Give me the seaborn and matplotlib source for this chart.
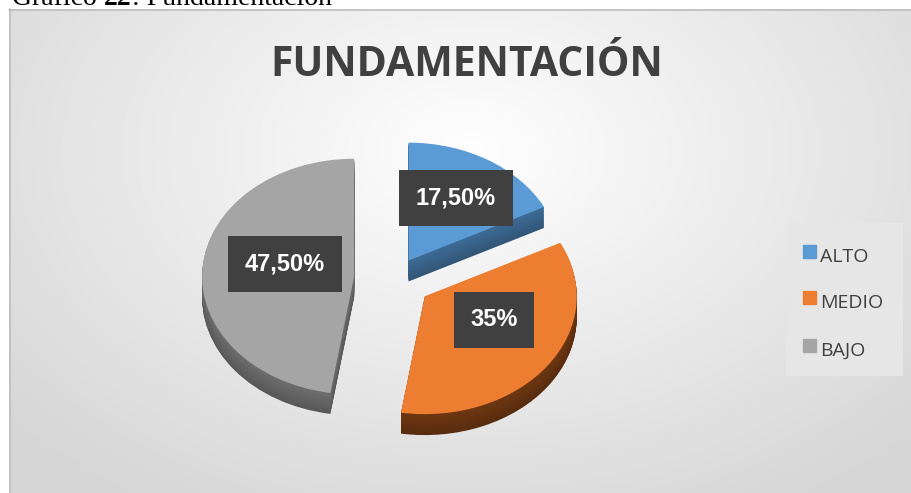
import numpy as np
import matplotlib
matplotlib.use("Agg")
import matplotlib.pyplot as plt
import matplotlib.colors as mcolors
import seaborn as sns

# data
categorias = ["ALTO", "MEDIO", "BAJO"]
porcentajes = [17.5, 35.0, 47.5]
etiquetas = ["17,50%", "35%", "47,50%"]
titulo = "FUNDAMENTACIÓN"
leyenda_partes = ["Gráfico ", "22", ": Fundamentación"]

colores = ["#5B9BD5", "#ED7D31", "#A5A5A5"]
colores_lado = ["#3E6C96", "#6E3712", "#6E6E6E"]

sns.set_theme(style="white")
plt.rcParams["font.family"] = ["Liberation Sans", "DejaVu Sans"]

W, H = 911, 493
fig = plt.figure(figsize=(W / 100, H / 100), dpi=100)
fig.patch.set_facecolor("white")

# background of the chart area: radial gradient, light center
bg = fig.add_axes([0, 0, 1, 1])
yy, xx = np.mgrid[0:H, 0:W]
d = np.sqrt(((xx - 470) / 620.0) ** 2 + ((yy - 150) / 420.0) ** 2)
d = np.clip(d, 0, 1)
c0 = np.array(mcolors.to_rgb("#ffffff"))
c1 = np.array(mcolors.to_rgb("#d6d6d6"))
img = c0[None, None, :] * (1 - d[..., None]) + c1[None, None, :] * d[..., None]
img[:9, :, :] = 1.0
img[:, :9, :] = 1.0
bg.imshow(img, extent=(0, W, H, 0), aspect="auto", interpolation="bilinear")
bg.plot([9, W], [9.5, 9.5], color="#bdbdbd", lw=1.2)
bg.plot([9.5, 9.5], [9, H], color="#bdbdbd", lw=1.2)
bg.set_xlim(0, W)
bg.set_ylim(H, 0)
bg.axis("off")

# pie axes: 1 data unit = 1 px horizontally, squashed vertically
k = 1.29
ax = fig.add_axes([0, 0, 1, 1])
ax.patch.set_alpha(0)

cx, cy_px = 394, 279
cy = (H - cy_px) * k
radio = 152
explode = [28, 38, 40]
depth = int(21 * k)

# side walls
for i in range(depth, 0, -1):
    f = i / depth
    cols = [mcolors.to_hex(np.array(mcolors.to_rgb(c)) * (0.8 + 0.2 * (1 - f)))
            for c in colores_lado]
    ax.pie(porcentajes, colors=cols, startangle=90, counterclock=False,
           explode=explode, radius=radio, center=(cx, cy - i),
           wedgeprops=dict(linewidth=0))

# top faces
ax.pie(porcentajes, colors=colores, startangle=90, counterclock=False,
       explode=explode, radius=radio, center=(cx, cy),
       wedgeprops=dict(linewidth=0))
ax.set_aspect("auto")
ax.set_xlim(0, W)
ax.set_ylim(0, H * k)
ax.axis("off")

# data labels in dark boxes (pixel positions of box centres)
pos_etiquetas = [(456, 198), (494, 320), (285, 264)]
for (px, py), txt in zip(pos_etiquetas, etiquetas):
    fig.text(px / W, 1 - py / H, txt, ha="center", va="center",
             fontsize=17, fontweight="bold", color="white",
             bbox=dict(boxstyle="square,pad=0.7", fc="#404040", ec="none"))

fig.text(467 / W, 1 - 66 / H, titulo, ha="center", va="center",
         fontsize=29.5, fontweight="bold", color="#404040",
         family=["Open Sans", "DejaVu Sans"])

# caption cut by the top edge, as in the source document
renderer = fig.canvas.get_renderer()
x0 = 12
for parte, peso in zip(leyenda_partes, ["normal", "bold", "normal"]):
    t = fig.text(x0 / W, 1 + 1 / H, parte, ha="left", va="center",
                 fontsize=20, fontweight=peso,
                 family=["Liberation Serif", "DejaVu Serif"],
                 color="black", zorder=10)
    x0 += t.get_window_extent(renderer).width

# legend
leg_ax = fig.add_axes([786 / W, 1 - 376 / H, 117 / W, 153 / H])
leg_ax.set_xlim(0, 117)
leg_ax.set_ylim(153, 0)
leg_ax.set_facecolor("#e6e6e6")
for s in leg_ax.spines.values():
    s.set_visible(False)
leg_ax.set_xticks([])
leg_ax.set_yticks([])
leg_y = [32, 78, 126]
for c, lab, y in zip(colores, categorias, leg_y):
    leg_ax.add_patch(plt.Rectangle((17, y - 10), 13, 13, color=c))
    leg_ax.text(34, y + 2, lab, ha="left", va="center", fontsize=14,
                color="#404040", family=["Open Sans", "DejaVu Sans"])

fig.savefig("out.png", dpi=100)
